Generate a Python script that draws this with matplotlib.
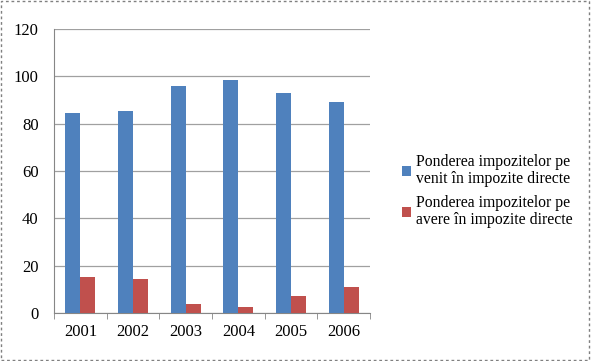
import matplotlib
matplotlib.use("Agg")
import matplotlib.pyplot as plt
import numpy as np
from matplotlib.patches import Rectangle

years = ["2001", "2002", "2003", "2004", "2005", "2006"]
venit = [84.6, 85.5, 96.1, 98.3, 92.8, 89.0]
avere = [15.2, 14.4, 3.8, 2.5, 7.3, 10.9]
series_names = ["Ponderea impozitelor pe\nvenit în impozite directe",
                "Ponderea impozitelor pe\navere în impozite directe"]
yticks = [0, 20, 40, 60, 80, 100, 120]

plt.rcParams['font.family'] = ['Liberation Serif', 'DejaVu Serif']

fig = plt.figure(figsize=(5.91, 3.61), dpi=100)
fig.patch.set_facecolor('white')
ax = fig.add_axes([54/591, 1-313/361, (370-54)/591, (313-29)/361])

x = np.arange(len(years))
w = 1/3.5
b1 = ax.bar(x - w/2, venit, w, color='#4F81BD', label=series_names[0], zorder=3)
b2 = ax.bar(x + w/2, avere, w, color='#C0504D', label=series_names[1], zorder=3)

ax.set_xlim(-0.5, len(years)-0.5)
ax.set_ylim(0, 120)
ax.set_yticks(yticks)
ax.set_yticklabels([str(t) for t in yticks], fontsize=12)
ax.set_xticks(x)
ax.set_xticklabels(years, fontsize=12)
ax.tick_params(axis='x', length=0, pad=8)
ax.tick_params(axis='y', length=0, pad=11)
ax.set_xticks(np.arange(-0.5, len(years), 1), minor=True)
ax.tick_params(axis='x', which='minor', length=4, color='#868686', direction='out')

ax.grid(axis='y', color='#A0A0A0', linewidth=0.9, zorder=0)
for s in ['top', 'right']:
    ax.spines[s].set_visible(False)
ax.spines['left'].set_color('#868686')
ax.spines['bottom'].set_color('#868686')

leg = fig.legend(handles=[b1, b2], labels=series_names, loc='upper left',
           bbox_to_anchor=(394/591, 1-146/361), frameon=False,
           prop={'family': 'Liberation Serif', 'size': 11.3},
           handlelength=0.6, handleheight=0.6, handletextpad=0.3,
           labelspacing=0.5, borderpad=0)
for t in leg.get_texts():
    t.set_linespacing(1.1)

fig.add_artist(Rectangle((0.002, 0.003), 0.995, 0.993, transform=fig.transFigure,
                         fill=False, edgecolor='#808080', linestyle=(0, (2, 2)), linewidth=1))

fig.savefig("out.png", dpi=100)
